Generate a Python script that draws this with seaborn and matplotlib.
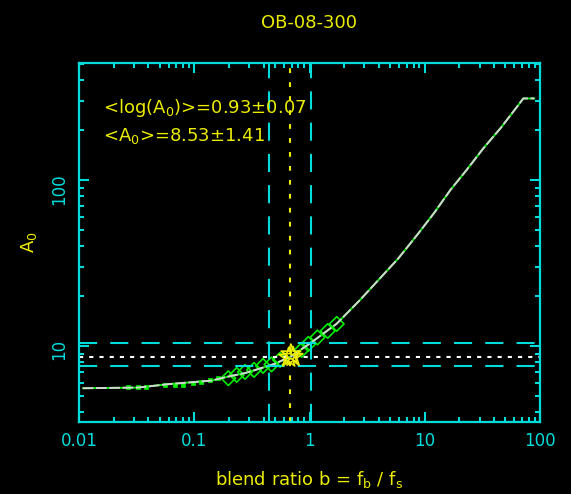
import matplotlib
matplotlib.use('Agg')
from matplotlib import pyplot as plt
from matplotlib.ticker import FixedLocator, FixedFormatter, LogLocator, NullFormatter
import seaborn as sns

# model curve A_0(b)
curve_b = [0.0108, 0.0325, 0.0592, 0.1406, 0.196, 0.274, 0.382, 0.499, 0.68, 1.0,
           1.72, 2.74, 5.9, 8.6, 12.0, 16.7, 23.1, 32.2, 45.4, 63.4, 71.6, 89.5]
curve_A = [5.56, 5.61, 5.88, 6.18, 6.53, 6.85, 7.35, 7.80, 8.6, 10.3,
           13.6, 18.9, 33.7, 46.7, 63.0, 87.1, 115, 155, 205, 277, 310, 310]

# small filled points at low blending
dot_b = [0.0267, 0.0325, 0.0381, 0.0557, 0.068, 0.0798, 0.0975, 0.114, 0.137, 0.161]
dot_A = [5.69, 5.64, 5.64, 5.82, 5.82, 5.82, 5.96, 6.10, 6.24, 6.38]

# open symbols
sym_b = [0.1975, 0.2335, 0.2756, 0.330, 0.395, 0.468, 0.5546, 0.8554, 0.976, 1.173, 1.439, 1.722]
sym_A = [6.39, 6.69, 6.97, 7.17, 7.58, 7.74, 8.24, 9.46, 10.28, 11.25, 12.31, 13.57]

# best value (stars)
star_b = [0.66, 0.69, 0.72]
star_A = [8.5, 8.9, 8.6]

# reference lines
b_lo, b_best, b_hi = 0.446, 0.681, 1.024
A_lo, A_mean, A_hi = 7.58, 8.55, 10.47

x_ticks = [0.01, 0.1, 1, 10, 100]
x_labels = ['0.01', '0.1', '1', '10', '100']
y_ticks = [10, 100]
y_labels = ['10', '100']

CYAN = '#00dcdc'
YELLOW = '#ecec00'
GREEN = '#00ee00'
WHITE = '#d4d4d4'

sns.set_theme(style='ticks')
plt.rcParams['font.family'] = ['DejaVu Sans']

fig, ax = plt.subplots(figsize=(5.71, 4.94), dpi=100)
fig.patch.set_facecolor('black')
ax.set_facecolor('black')
fig.subplots_adjust(left=79/571, right=540/571, bottom=1-422/494, top=1-63/494)
ax.set_xscale('log')
ax.set_yscale('log')

# curve: white dashed line over a thin green one, so green shows as small dots
sns.lineplot(x=curve_b, y=curve_A, ax=ax, color=GREEN, lw=1.4, sort=False)
sns.lineplot(x=curve_b, y=curve_A, ax=ax, color=WHITE, lw=1.4, sort=False,
             linestyle=(0, (5.5, 1.3)))

sns.scatterplot(x=dot_b, y=dot_A, ax=ax, marker='s', s=10, color=GREEN, edgecolor=GREEN,
                linewidth=0.5)
sns.scatterplot(x=sym_b, y=sym_A, ax=ax, marker='D', s=55, facecolor='none',
                edgecolor=GREEN, linewidth=1.2)

dash = (0, (8.7, 6.3))
for a in (A_lo, A_hi):
    ax.axhline(a, color=CYAN, lw=1.5, ls=dash)
for b in (b_lo, b_hi):
    ax.axvline(b, color=CYAN, lw=1.5, ls=dash)
ax.axhline(A_mean, color='white', lw=1.5, ls=(0, (2, 2.9)))
ax.axvline(b_best, color=YELLOW, lw=1.5, ls=(0, (2.3, 4.4)))

sns.scatterplot(x=star_b, y=star_A, ax=ax, marker='*', s=220, facecolor='none',
                edgecolor=YELLOW, linewidth=1.2, zorder=5)

ax.set_xlim(0.01, 100)
ax.set_ylim(3.48, 507)

ax.xaxis.set_major_locator(FixedLocator(x_ticks))
ax.xaxis.set_major_formatter(FixedFormatter(x_labels))
ax.yaxis.set_major_locator(FixedLocator(y_ticks))
ax.yaxis.set_major_formatter(FixedFormatter(y_labels))
for axis in (ax.xaxis, ax.yaxis):
    axis.set_minor_locator(LogLocator(base=10, subs=range(2, 10), numticks=20))
    axis.set_minor_formatter(NullFormatter())

ax.tick_params(which='both', direction='in', top=True, right=True, color=CYAN,
               labelcolor=CYAN, width=1.5, labelsize=12)
ax.tick_params(which='major', length=7.5)
ax.tick_params(which='minor', length=3.8)
ax.tick_params(axis='x', pad=7)
ax.tick_params(axis='y', labelrotation=90, pad=8)
for sp in ax.spines.values():
    sp.set_color(CYAN)
    sp.set_linewidth(1.6)

ax.text(0.053, 0.862, r'<log(A$_\mathregular{0}$)>=0.93±0.07', transform=ax.transAxes,
        color=YELLOW, fontsize=13, va='baseline')
ax.text(0.053, 0.783, r'<A$_\mathregular{0}$>=8.53±1.41', transform=ax.transAxes,
        color=YELLOW, fontsize=13, va='baseline')

ax.set_title('OB-08-300', color=YELLOW, fontsize=13, pad=25)
ax.set_xlabel(r'blend ratio b = f$_\mathregular{b}$ / f$_\mathregular{s}$', color=YELLOW,
              fontsize=13, labelpad=14)
ax.set_ylabel(r'A$_\mathregular{0}$', color=YELLOW, fontsize=13, labelpad=8)

fig.savefig('out.png', dpi=100, facecolor='black')
